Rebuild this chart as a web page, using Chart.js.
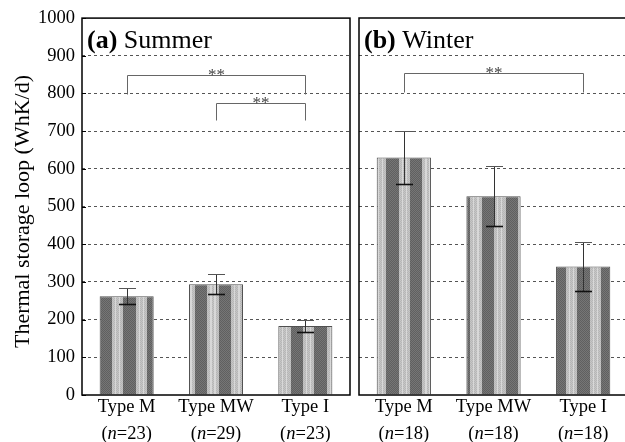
<!DOCTYPE html>
<html><head><meta charset="utf-8">
<script src="https://cdn.jsdelivr.net/npm/chart.js@4.4.1/dist/chart.umd.min.js"></script>
<style>
html,body{margin:0;padding:0;background:#fff;overflow:hidden;width:625px;height:442px}
#wrap{position:relative;width:625px;height:442px;overflow:hidden;background:#fff}
#c1{position:absolute;left:0;top:0}
#c2{position:absolute;left:355px;top:0}
</style></head><body>
<div id="wrap">
<canvas id="c1" width="356" height="442"></canvas>
<canvas id="c2" width="280" height="442"></canvas>
</div>
<script>
// ---- data ----
const categories = ['Type M', 'Type MW', 'Type I'];
const summerN = [23, 29, 23];
const winterN = [18, 18, 18];
const summerMean = [262, 294, 183];
const summerErr = [21, 26, 17];
const winterMean = [630, 527, 341];
const winterErr = [71, 80, 65];
const yMin = 0, yMax = 1000, yStep = 100;
// significance brackets: [fromIndex, toIndex, legBottomValue, bracketTopValue, label]
const summerSig = [[0, 2, 799, 850, '**'], [1, 2, 729, 776, '**']];
const winterSig = [[0, 2, 804, 853, '**']];
const summerTitle = ['(a)', ' Summer'];
const winterTitle = ['(b)', ' Winter'];
const yTitle = 'Thermal storage loop (WhK/d)';

const SERIF = '"Liberation Serif", "Times New Roman", serif';

function makeStripe(ctx, pageOffset) {
  const W = 239, H = 2;
  const cv = document.createElement('canvas');
  cv.width = W; cv.height = H;
  const c = cv.getContext('2d');
  const img = c.createImageData(W, H);
  for (let y = 0; y < H; y++) {
    for (let x = 0; x < W; x++) {
      const ph = (((x + 0.5 - 123.3) % 23.9) + 23.9) % 23.9;
      const dark = ph < 12.4;
      const chk = (x + y) % 2 === 0;
      let v;
      if (dark) v = chk ? 0x60 : 0x76;
      else {
        const lp = ph - 12.4;
        v = chk ? 0xb6 : 0xc6;
        if ((lp > 3 && lp < 4.2) || (lp > 7 && lp < 8.2)) v = 0xd8;
      }
      const k = (y * W + x) * 4;
      img.data[k] = v; img.data[k + 1] = v; img.data[k + 2] = v; img.data[k + 3] = 255;
    }
  }
  c.putImageData(img, 0, 0);
  const p = ctx.createPattern(cv, 'repeat');
  p.setTransform(new DOMMatrix([1, 0, 0, 1, -pageOffset, 0]));
  return p;
}

const decor = {
  id: 'decor',
  afterDatasetsDraw(chart, args, o) {
    const { ctx, chartArea: a, scales: { x, y } } = chart;
    const means = chart.data.datasets[0].data;
    ctx.save();
    // error bars
    means.forEach((m, i) => {
      const cx = Math.round(x.getPixelForValue(i)) + 0.5;
      const yt = Math.round(y.getPixelForValue(m + o.errs[i])) + 0.5;
      const yb = Math.round(y.getPixelForValue(m - o.errs[i])) + 0.5;
      ctx.strokeStyle = '#333'; ctx.lineWidth = 1;
      ctx.beginPath(); ctx.moveTo(cx, yt); ctx.lineTo(cx, yb); ctx.stroke();
      ctx.strokeStyle = '#555';
      ctx.beginPath(); ctx.moveTo(cx - 8.5, yt); ctx.lineTo(cx + 8.5, yt); ctx.stroke();
      ctx.strokeStyle = '#111'; ctx.lineWidth = 1.6;
      ctx.beginPath(); ctx.moveTo(cx - 8.5, yb); ctx.lineTo(cx + 8.5, yb); ctx.stroke();
    });
    // significance brackets
    o.sig.forEach(s => {
      const x1 = Math.round(x.getPixelForValue(s[0])) + 0.5;
      const x2 = Math.round(x.getPixelForValue(s[1])) + 0.5;
      const yl = Math.round(y.getPixelForValue(s[2])) + 0.5;
      const yt = Math.round(y.getPixelForValue(s[3])) + 0.5;
      ctx.strokeStyle = '#666'; ctx.lineWidth = 1;
      ctx.beginPath(); ctx.moveTo(x1, yl); ctx.lineTo(x1, yt); ctx.lineTo(x2, yt); ctx.lineTo(x2, yl); ctx.stroke();
      ctx.fillStyle = '#444';
      ctx.font = '17px ' + SERIF;
      ctx.textAlign = 'center'; ctx.textBaseline = 'alphabetic';
      ctx.fillText(s[4], (x1 + x2) / 2, yt + 4);
    });
    // frame
    ctx.strokeStyle = '#000'; ctx.lineWidth = 1.5;
    ctx.strokeRect(a.left, a.top, a.right - a.left, a.bottom - a.top);
    // inward ticks on left axis
    if (o.yTicks) {
      ctx.lineWidth = 1;
      for (let v = yMin; v <= yMax; v += yStep) {
        const yy = Math.round(y.getPixelForValue(v)) + 0.5;
        ctx.beginPath(); ctx.moveTo(a.left, yy); ctx.lineTo(a.left + 4, yy); ctx.stroke();
      }
    }
    // panel title
    ctx.fillStyle = '#000';
    ctx.textAlign = 'left'; ctx.textBaseline = 'alphabetic';
    ctx.font = 'bold 26px ' + SERIF;
    const tx = a.left + 5;
    ctx.fillText(o.title[0], tx, 48);
    const w0 = ctx.measureText(o.title[0]).width;
    ctx.font = '26px ' + SERIF;
    ctx.fillText(o.title[1], tx + w0, 48);
    // x labels
    categories.forEach((c, i) => {
      const cx = x.getPixelForValue(i);
      ctx.font = '18.5px ' + SERIF;
      ctx.textAlign = 'center';
      ctx.fillText(c, cx, 412);
      const p1 = '(', p2 = 'n', p3 = '=' + o.ns[i] + ')';
      ctx.font = '18.5px ' + SERIF;
      const w1 = ctx.measureText(p1).width, w3 = ctx.measureText(p3).width;
      ctx.font = 'italic 18.5px ' + SERIF;
      const w2 = ctx.measureText(p2).width;
      let sx = cx - (w1 + w2 + w3) / 2;
      ctx.textAlign = 'left';
      ctx.font = '18.5px ' + SERIF; ctx.fillText(p1, sx, 439);
      ctx.font = 'italic 18.5px ' + SERIF; ctx.fillText(p2, sx + w1, 439);
      ctx.font = '18.5px ' + SERIF; ctx.fillText(p3, sx + w1 + w2, 439);
    });
    // y title
    if (o.yTitle) {
      ctx.save();
      ctx.translate(29, 211.5);
      ctx.rotate(-Math.PI / 2);
      ctx.font = '22px ' + SERIF;
      ctx.textAlign = 'center'; ctx.textBaseline = 'alphabetic';
      ctx.fillText(o.yTitle, 0, 0);
      ctx.restore();
    }
    ctx.restore();
  }
};

function build(id, means, errs, ns, sig, title, pageOffset, leftW, rightPad, showY) {
  const canvas = document.getElementById(id);
  const ctx = canvas.getContext('2d');
  const pattern = makeStripe(ctx, pageOffset);
  return new Chart(canvas, {
    type: 'bar',
    data: {
      labels: categories,
      datasets: [{
        data: means,
        backgroundColor: pattern,
        borderColor: '#505050',
        borderWidth: 1,
        barPercentage: 0.605,
        categoryPercentage: 1
      }]
    },
    options: {
      responsive: false,
      animation: false,
      devicePixelRatio: 1,
      layout: { padding: { left: 0, right: rightPad, top: 18, bottom: 0 } },
      plugins: {
        legend: { display: false },
        tooltip: { enabled: false },
        decor: { errs, ns, sig, title, yTitle: showY ? yTitle : null, yTicks: showY }
      },
      scales: {
        x: {
          ticks: { display: false },
          grid: { display: false },
          border: { display: false },
          afterFit: s => { s.height = 47; }
        },
        y: {
          min: yMin, max: yMax,
          ticks: {
            display: showY, stepSize: yStep, padding: 7,
            color: '#000', font: { family: SERIF, size: 18.5 },
            callback: v => String(v)
          },
          grid: {
            drawTicks: false,
            color: c => (c.tick && (c.tick.value === yMin || c.tick.value === yMax)) ? 'rgba(0,0,0,0)' : '#555',
            lineWidth: 1
          },
          border: { display: false, dash: [3, 3] },
          afterFit: s => { s.width = leftW; }
        }
      }
    },
    plugins: [decor]
  });
}

build('c1', summerMean, summerErr, summerN, summerSig, summerTitle, 0, 82, 6, true);
build('c2', winterMean, winterErr, winterN, winterSig, winterTitle, 355, 4, 7, false);
</script>
</body></html>
